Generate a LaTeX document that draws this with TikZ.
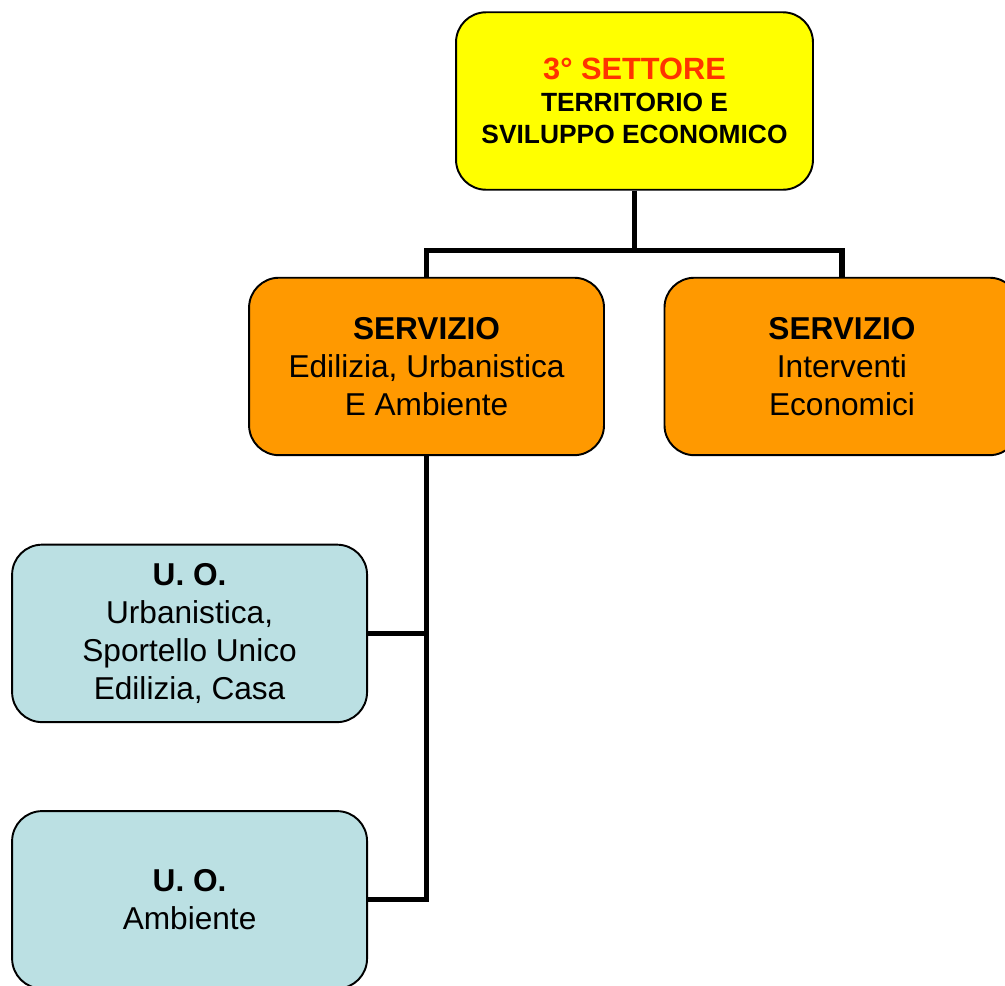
\documentclass[tikz,border=0pt]{standalone}
\usepackage{fontspec}
\setmainfont{Liberation Sans}
\usetikzlibrary{positioning}

\definecolor{settoreyellow}{HTML}{FFFF00}
\definecolor{servizioorange}{HTML}{FF9900}
\definecolor{uoblue}{HTML}{BBE0E3}
\definecolor{titlered}{HTML}{FF3300}

\begin{document}
\begin{tikzpicture} [x = 0.02cm, y = -0.02cm, on grid,
  box/.style = {draw, line width = 1.1pt, rounded corners = 0.6cm,
    align = center, inner sep = 0pt,
    minimum width = 7.1cm, minimum height = 3.55cm},
  settore/.style = {box, fill = settoreyellow, minimum width = 7.14cm,
    font = \bfseries\fontsize{15}{18.3}\selectfont},
  servizio/.style = {box, fill = servizioorange,
    font = \fontsize{18}{21.6}\selectfont},
  uo/.style = {box, fill = uoblue,
    font = \fontsize{18}{21.6}\selectfont},
  link/.style = {line width = 3pt}]

\useasboundingbox (0,0) rectangle (1005,985);

\node (set3) [settore] at (634.5,101)
  {{\color{titlered}\fontsize{17.5}{20}\selectfont 3° SETTORE}\\
   TERRITORIO E\\ SVILUPPO ECONOMICO};

% servizi
\node (serEdil) [servizio, below left = 5.31cm and 4.16cm of set3]
  {\textbf{SERVIZIO}\\ Edilizia, Urbanistica\\ E Ambiente};
\node (serEcon) [servizio, below right = 5.31cm and 4.15cm of set3]
  {\textbf{SERVIZIO}\\ Interventi\\ Economici};

% unita' operative
\node (uoUrb) [uo, below left = 5.34cm and 4.74cm of serEdil]
  {\textbf{U. O.}\\ Urbanistica,\\ Sportello Unico\\ Edilizia, Casa};
\node (uoAmb) [uo, below = 5.33cm of uoUrb]
  {\textbf{U. O.}\\ Ambiente};

\draw [link] (set3.south) -- ++(0,60) -| (serEdil.north);
\draw [link] (set3.south) -- ++(0,60) -| (serEcon.north);

\draw [link] (serEdil.south) |- (uoUrb.east);
\draw [link] (serEdil.south) |- (uoAmb.east);

\end{tikzpicture}
\end{document}
